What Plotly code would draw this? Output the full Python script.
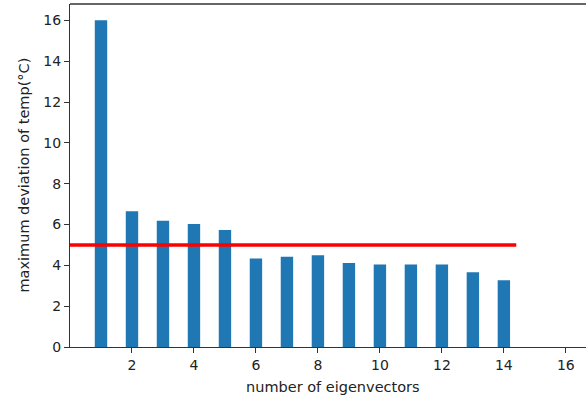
import plotly.graph_objects as go

n_eig = list(range(1, 15))
max_dev = [16.0, 6.65, 6.18, 6.03, 5.73, 4.33, 4.42, 4.5, 4.12, 4.04, 4.04, 4.04, 3.66, 3.27]
threshold = 5
threshold_x = [0, 14.4]
x_ticks = [2, 4, 6, 8, 10, 12, 14, 16]
y_ticks = [0, 2, 4, 6, 8, 10, 12, 14, 16]

FONT = "DejaVu Sans"
AX = "#333333"

fig = go.Figure()
fig.add_bar(x=n_eig, y=max_dev, width=0.4, marker_color="#1f77b4", marker_line_width=0)
fig.add_scatter(x=threshold_x, y=[threshold] * len(threshold_x), mode="lines",
                line=dict(color="red", width=3.5))

axis_common = dict(showgrid=False, zeroline=False, showline=True, linecolor=AX, linewidth=1.3,
                   ticks="outside", ticklen=5, tickcolor=AX, tickwidth=1.2, automargin=False,
                   tickfont=dict(family=FONT, size=14, color="#222"))

fig.update_layout(
    width=586, height=399,
    margin=dict(l=70, r=0, t=4, b=52),
    plot_bgcolor="white", paper_bgcolor="white",
    showlegend=False,
    xaxis=dict(range=[0, 16.65], tickvals=x_ticks, **axis_common),
    yaxis=dict(range=[0, 16.8], tickvals=y_ticks, **axis_common),
    shapes=[dict(type="line", xref="paper", yref="paper", x0=0, x1=1, y0=1, y1=1,
                 line=dict(color=AX, width=1.3))],
    annotations=[
        dict(text="number of eigenvectors", xref="paper", yref="paper", x=0.51, y=0,
             xanchor="center", yanchor="top", yshift=-30, showarrow=False,
             font=dict(family=FONT, size=14.5, color="#222")),
        dict(text="maximum deviation of temp(°C)", xref="paper", yref="paper", x=-0.091, y=0.5,
             xanchor="center", yanchor="middle", textangle=-90, showarrow=False,
             font=dict(family=FONT, size=14.5, color="#222")),
    ],
)

fig.write_html("out.html", config={"displayModeBar": False},
               post_script="document.body.style.margin='0';document.body.style.overflow='hidden';")
